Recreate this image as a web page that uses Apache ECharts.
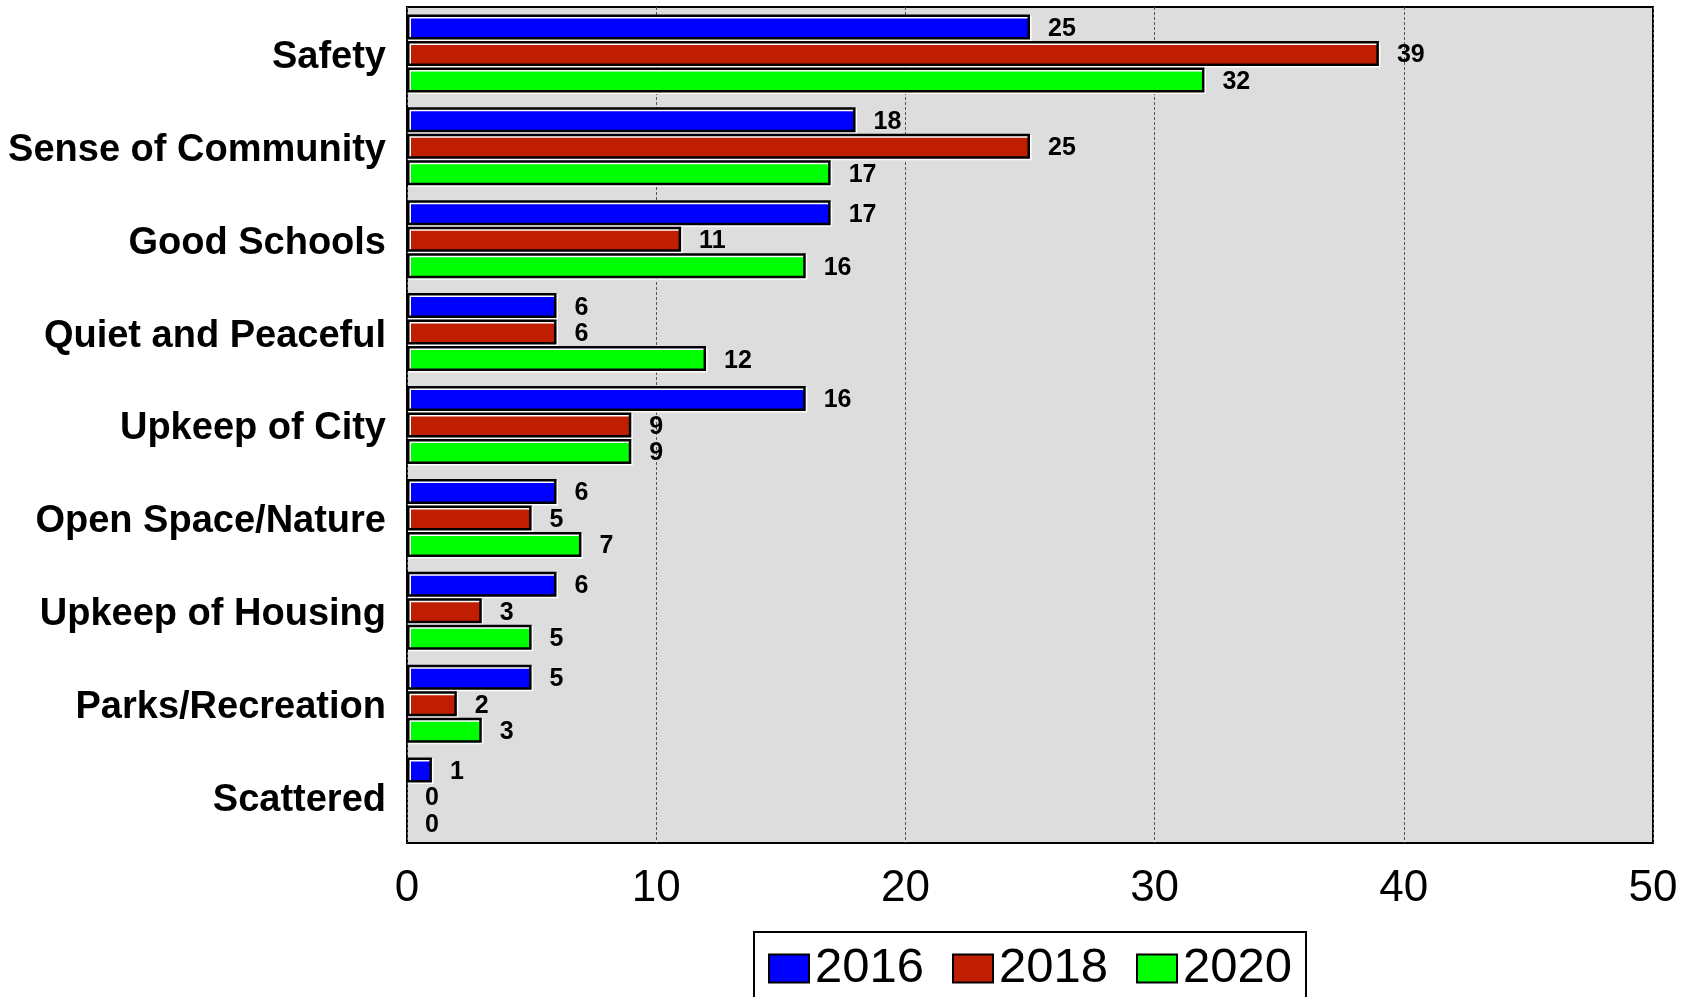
<!DOCTYPE html>
<html>
<head>
<meta charset="utf-8">
<script src="https://cdn.jsdelivr.net/npm/echarts@6/dist/echarts.min.js"></script>
<style>
html,body{margin:0;padding:0;background:#fff;}
#chart{width:1692px;height:997px;}
</style>
</head>
<body>
<div id="chart"></div>
<script>
var categories = ['Safety','Sense of Community','Good Schools','Quiet and Peaceful','Upkeep of City','Open Space/Nature','Upkeep of Housing','Parks/Recreation','Scattered'];
var seriesNames = ['2016','2018','2020'];
var values2016 = [25,18,17,6,16,6,6,5,1];
var values2018 = [39,25,11,6,9,5,3,2,0];
var values2020 = [32,17,16,12,9,7,5,3,0];
var xTicks = [0,10,20,30,40,50];
var colors = ['#0000FF','#C01E00','#00FF00'];

var font = '"Liberation Sans", Arial, sans-serif';
var allValues = [values2016, values2018, values2020];

function makeSeries(i){
  return {
    name: seriesNames[i],
    type: 'bar',
    barWidth: 25,
    barGap: '6%',
    data: allValues[i].map(function(v){
      return v === 0 ? {value: v, itemStyle: {borderWidth: 0, shadowColor: 'rgba(0,0,0,0)'}} : v;
    }),
    itemStyle: {
      color: colors[i],
      borderColor: '#000',
      borderWidth: 2.5,
      shadowColor: '#fff',
      shadowOffsetX: 1.5,
      shadowOffsetY: 1.5,
      shadowBlur: 0
    },
    label: {
      show: true,
      position: 'right',
      distance: 18,
      offset: [0, 2],
      color: '#000',
      fontFamily: font,
      fontWeight: 'bold',
      fontSize: 25
    },
    animation: false
  };
}

var chart = echarts.init(document.getElementById('chart'), null, {renderer: 'canvas'});
chart.setOption({
  animation: false,
  backgroundColor: '#fff',
  grid: {
    left: 407, right: 39, top: 7, bottom: 154,
    show: true,
    backgroundColor: '#DDDDDD',
    borderColor: '#000',
    borderWidth: 2,
    containLabel: false
  },
  legend: {
    data: seriesNames,
    icon: 'rect',
    left: 754,
    top: 932,
    orient: 'horizontal',
    itemWidth: 40,
    itemHeight: 28,
    itemGap: 28,
    padding: [12, 14, 30, 14],
    borderColor: '#000',
    borderWidth: 2,
    backgroundColor: '#fff',
    borderRadius: 0,
    textStyle: {fontFamily: font, fontSize: 49, color: '#000', padding: [0,0,0,1]}
  },
  xAxis: {
    type: 'value',
    min: 0, max: 50, interval: 10,
    axisLine: {show: false},
    axisTick: {show: false},
    splitLine: {show: true, lineStyle: {color: '#555', type: [3,2], width: 1}},
    axisLabel: {
      fontFamily: font, fontSize: 44, color: '#000', margin: 24,
      formatter: function(v){ return xTicks.indexOf(v) >= 0 ? String(v) : ''; }
    }
  },
  yAxis: {
    type: 'category',
    data: categories,
    inverse: true,
    axisLine: {show: false},
    axisTick: {show: false},
    splitLine: {show: false},
    axisLabel: {
      margin: 21,
      formatter: function(v){ return '{c|' + v + '}'; },
      rich: {
        c: {fontFamily: font, fontSize: 38, fontWeight: 'bold', color: '#000', padding: [8, 0, 0, 0]}
      }
    }
  },
  series: [makeSeries(0), makeSeries(1), makeSeries(2)]
});
</script>
</body>
</html>
